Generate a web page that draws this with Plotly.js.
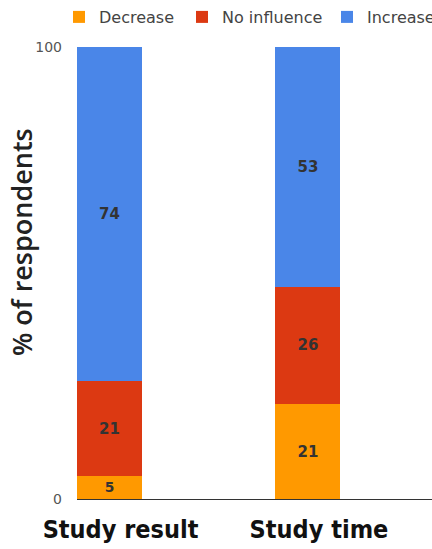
<!DOCTYPE html>
<html>
<head>
<meta charset="utf-8">
<script src="https://cdn.plot.ly/plotly-3.0.1.min.js"></script>
<style>html,body{margin:0;padding:0;background:#fff;overflow:hidden;}#chart{width:432px;height:549px;}</style>
</head>
<body>
<div id="chart"></div>
<script>
const categories = ["Study result", "Study time"];
const decrease = [5, 21];
const noInfluence = [21, 26];
const increase = [74, 53];
const seriesNames = ["Decrease", "No influence", "Increase"];
const colors = ["#ff9900", "#dc3912", "#4a86e8"];
const yTicks = [0, 100];

const legendIds = ["legend", "legend2", "legend3"];
const legendX = [-0.0507, 0.2958, 0.7239];

const series = [decrease, noInfluence, increase];
const traces = series.map((vals, i) => ({
  type: "bar",
  name: seriesNames[i],
  legend: legendIds[i],
  x: categories,
  y: vals,
  width: 0.3275,
  marker: {color: colors[i], line: {width: 0}},
  text: vals.map(String),
  textposition: "inside",
  insidetextanchor: "middle",
  textangle: 0,
  textfont: {family: "DejaVu Sans", size: 15, color: "#333333", weight: "bold"},
  hoverinfo: "none"
}));

const legendBase = {
  orientation: "h", xanchor: "left", xref: "paper",
  yref: "container", y: 1.0, yanchor: "top",
  font: {family: "DejaVu Sans", size: 16, color: "#444444"},
  itemwidth: 30, itemclick: false, bgcolor: "rgba(0,0,0,0)"
};

const layout = {
  width: 432, height: 549,
  margin: {l: 77, r: 0, t: 47, b: 50, pad: 0},
  barmode: "stack",
  paper_bgcolor: "#ffffff",
  plot_bgcolor: "#ffffff",
  showlegend: true,
  legend: Object.assign({}, legendBase, {x: legendX[0]}),
  legend2: Object.assign({}, legendBase, {x: legendX[1]}),
  legend3: Object.assign({}, legendBase, {x: legendX[2], entrywidth: 60, entrywidthmode: "pixels"}),
  xaxis: {
    type: "category",
    range: [-0.164, 1.625],
    showline: true, linecolor: "#333333", linewidth: 1,
    showgrid: false, zeroline: false, ticks: "",
    ticklabelstandoff: 8,
    ticklabelshift: 11,
    tickfont: {family: "DejaVu Sans Condensed, Open Sans", size: 25, color: "#111111", weight: "bold"}
  },
  yaxis: {
    range: [0, 100],
    tickvals: yTicks,
    ticktext: yTicks.map(String),
    showgrid: false, zeroline: false, showline: false, ticks: "",
    ticklabelstandoff: 14,
    tickfont: {family: "DejaVu Sans", size: 14, color: "#555555"}
  },
  annotations: [{
    text: "% of respondents",
    xref: "paper", yref: "paper",
    x: -0.155, y: 0.5686,
    xanchor: "center", yanchor: "middle",
    textangle: -90, showarrow: false,
    font: {family: "Open Sans", size: 27, color: "#222222", weight: 600}
  }]
};
Plotly.newPlot("chart", traces, layout, {staticPlot: true, displayModeBar: false});
</script>
</body>
</html>
